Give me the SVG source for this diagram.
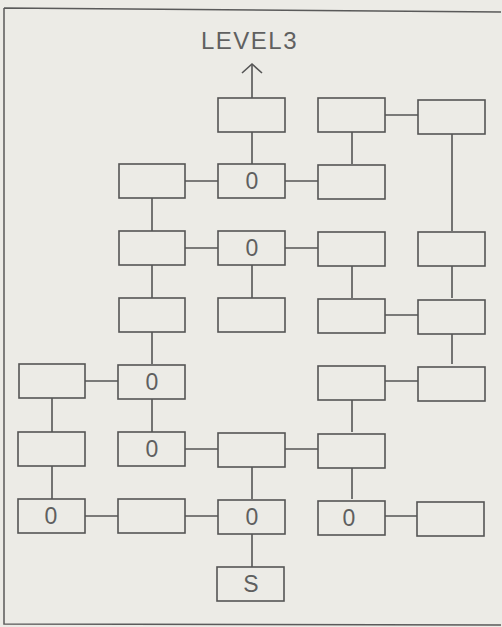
<svg xmlns="http://www.w3.org/2000/svg" width="502" height="627" viewBox="0 0 502 627">
<defs>
<style>
.bg{fill:#ecebe6}
.frame{fill:none;stroke:#5a5a5a;stroke-width:1.5}
.box{fill:#ecebe6;stroke:#555;stroke-width:1.6}
.ln{stroke:#555;stroke-width:1.6;fill:none}
.t{font-family:"Liberation Sans",Arial,sans-serif;font-size:23px;fill:#5f5f5f;text-anchor:middle}
.title{font-family:"Liberation Sans",Arial,sans-serif;font-size:24px;fill:#606060;letter-spacing:1.5px}
</style>
<marker id="chev" markerWidth="14" markerHeight="24" refX="11" refY="12" orient="auto" markerUnits="userSpaceOnUse" viewBox="0 0 14 24">
<path d="M2,2 L11,12 L2,22" fill="none" stroke="#555" stroke-width="1.6"/>
</marker>
</defs>
<rect class="bg" x="0" y="0" width="502" height="627"/>
<path class="frame" d="M4,8 L501,12 M4,8 L4,624 L501,625"/>
<text class="title" x="201" y="49">LEVEL3</text>
<g id="connectors">
<path class="ln" d="M252,98 L252,64" marker-end="url(#chev)"/>
<path class="ln" d="M385,115 L418,115"/>
<path class="ln" d="M352,132 L352,164"/>
<path class="ln" d="M252,132 L252,164"/>
<path class="ln" d="M185,181 L218,181 M285,181 L318,181"/>
<path class="ln" d="M152,198 L152,231"/>
<path class="ln" d="M452,134 L452,231"/>
<path class="ln" d="M185,248 L218,248 M285,248 L318,248"/>
<path class="ln" d="M152,265 L152,298"/>
<path class="ln" d="M252,265 L252,298"/>
<path class="ln" d="M352,265 L352,298"/>
<path class="ln" d="M452,265 L452,298"/>
<path class="ln" d="M385,315 L418,315"/>
<path class="ln" d="M152,332 L152,364"/>
<path class="ln" d="M452,332 L452,364"/>
<path class="ln" d="M85,381 L118,381"/>
<path class="ln" d="M385,381 L418,381"/>
<path class="ln" d="M52,398 L52,432"/>
<path class="ln" d="M152,398 L152,432"/>
<path class="ln" d="M352,398 L352,432"/>
<path class="ln" d="M185,449 L218,449 M285,449 L318,449"/>
<path class="ln" d="M52,466 L52,499"/>
<path class="ln" d="M252,466 L252,499"/>
<path class="ln" d="M352,466 L352,499"/>
<path class="ln" d="M85,516 L118,516 M185,516 L218,516"/>
<path class="ln" d="M385,516 L418,516"/>
<path class="ln" d="M252,533 L252,567"/>
</g>
<g id="n_c1"><rect class="box" x="218" y="98" width="67" height="34"/></g>
<g id="n_d1"><rect class="box" x="318" y="98" width="67" height="34"/></g>
<g id="n_e1"><rect class="box" x="418" y="100" width="67" height="34"/></g>
<g id="n_b2"><rect class="box" x="119" y="164" width="66" height="34"/></g>
<g id="n_c2"><rect class="box" x="218" y="164" width="67" height="34"/><text class="t" x="252" y="189">0</text></g>
<g id="n_d2"><rect class="box" x="318" y="165" width="67" height="34"/></g>
<g id="n_b3"><rect class="box" x="119" y="231" width="66" height="34"/></g>
<g id="n_c3"><rect class="box" x="218" y="231" width="67" height="34"/><text class="t" x="252" y="256">0</text></g>
<g id="n_d3"><rect class="box" x="318" y="232" width="67" height="34"/></g>
<g id="n_e3"><rect class="box" x="418" y="232" width="67" height="34"/></g>
<g id="n_b4"><rect class="box" x="119" y="298" width="66" height="34"/></g>
<g id="n_c4"><rect class="box" x="218" y="298" width="67" height="34"/></g>
<g id="n_d4"><rect class="box" x="318" y="299" width="67" height="34"/></g>
<g id="n_e4"><rect class="box" x="418" y="300" width="67" height="34"/></g>
<g id="n_a5"><rect class="box" x="19" y="364" width="66" height="34"/></g>
<g id="n_b5"><rect class="box" x="118" y="365" width="67" height="34"/><text class="t" x="152" y="390">0</text></g>
<g id="n_d5"><rect class="box" x="318" y="366" width="67" height="34"/></g>
<g id="n_e5"><rect class="box" x="418" y="367" width="67" height="34"/></g>
<g id="n_a6"><rect class="box" x="18" y="432" width="67" height="34"/></g>
<g id="n_b6"><rect class="box" x="118" y="432" width="67" height="34"/><text class="t" x="152" y="457">0</text></g>
<g id="n_c6"><rect class="box" x="218" y="433" width="67" height="34"/></g>
<g id="n_d6"><rect class="box" x="318" y="434" width="67" height="34"/></g>
<g id="n_a7"><rect class="box" x="18" y="499" width="67" height="34"/><text class="t" x="51" y="524">0</text></g>
<g id="n_b7"><rect class="box" x="118" y="499" width="67" height="34"/></g>
<g id="n_c7"><rect class="box" x="218" y="500" width="67" height="34"/><text class="t" x="252" y="525">0</text></g>
<g id="n_d7"><rect class="box" x="318" y="501" width="67" height="34"/><text class="t" x="349" y="526">0</text></g>
<g id="n_e7"><rect class="box" x="417" y="502" width="67" height="34"/></g>
<g id="n_c8"><rect class="box" x="217" y="567" width="67" height="34"/><text class="t" x="251" y="592">S</text></g>
</svg>
